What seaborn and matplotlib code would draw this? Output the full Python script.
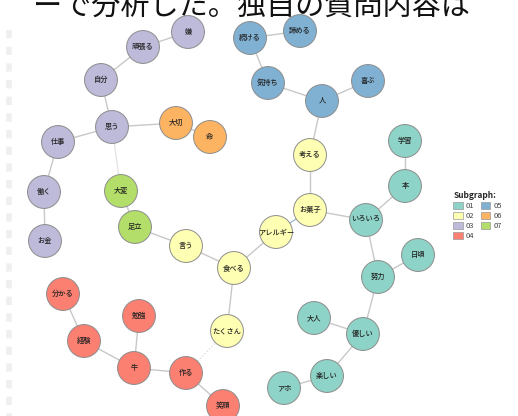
import pandas as pd
import matplotlib.pyplot as plt
import seaborn as sns
from matplotlib.patches import Patch

# nodes of the co-occurrence network (word, subgraph, layout position in px)
words = ["嫌", "頑張る", "自分", "思う", "仕事", "働く", "お金",
         "大切", "命",
         "大変", "足立",
         "言う", "食べる", "たくさん", "アレルギー", "お菓子", "考える",
         "続ける", "諦める", "気持ち", "人", "喜ぶ",
         "学習", "本", "いろいろ", "日頃", "努力", "大人", "優しい", "楽しい", "アホ",
         "分かる", "経験", "勉強", "牛", "作る", "笑顔"]
subgraph = ["03"] * 7 + ["06"] * 2 + ["07"] * 2 + ["02"] * 6 + ["05"] * 5 + ["01"] * 9 + ["04"] * 6
node_x = [188, 143, 101, 112, 58, 44, 45,
          176, 210,
          121, 135,
          186, 234, 227, 276, 310, 310,
          250, 300, 268, 322, 368,
          405, 405, 366, 418, 378, 314, 363, 327, 284,
          63, 84, 139, 134, 186, 223]
node_y = [32, 47, 80, 127, 142, 192, 241,
          123, 137,
          191, 227,
          246, 268, 331, 232, 210, 155,
          38, 31, 83, 101, 81,
          141, 186, 220, 255, 277, 318, 334, 376, 388,
          294, 341, 316, 368, 373, 406]

edges = [("嫌", "頑張る"), ("頑張る", "自分"), ("自分", "思う"), ("思う", "仕事"),
         ("思う", "大切"), ("大切", "命"), ("仕事", "働く"), ("働く", "お金"),
         ("大変", "足立"), ("足立", "言う"), ("言う", "食べる"),
         ("食べる", "アレルギー"), ("食べる", "たくさん"), ("お菓子", "考える"),
         ("考える", "人"), ("お菓子", "いろいろ"), ("続ける", "諦める"),
         ("続ける", "気持ち"), ("気持ち", "人"), ("人", "喜ぶ"), ("学習", "本"),
         ("本", "いろいろ"), ("いろいろ", "努力"), ("努力", "日頃"), ("努力", "優しい"),
         ("大人", "優しい"), ("優しい", "楽しい"), ("楽しい", "アホ"),
         ("分かる", "経験"), ("経験", "牛"), ("勉強", "牛"), ("牛", "作る"), ("作る", "笑顔")]
faint_edges = [("思う", "大変")]
blue_edges = [("アレルギー", "お菓子")]
dotted_edges = [("作る", "たくさん")]

groups = ["01", "02", "03", "04", "05", "06", "07"]
header = "ーで分析した。独自の質問内容は"

sns.set_theme(style="white")
plt.rcParams['font.family'] = ['Noto Sans CJK JP', 'DejaVu Sans']

df = pd.DataFrame({"word": words, "subgraph": subgraph, "x": node_x, "y": node_y})
pos = {w: (x, y) for w, x, y in zip(words, node_x, node_y)}
palette = {"01": "#8dd3c7", "02": "#ffffb3", "03": "#bebada", "04": "#fb8072",
           "05": "#80b1d3", "06": "#fdb462", "07": "#b3de69"}

fig = plt.figure(figsize=(5.18, 4.16), dpi=100)
ax = fig.add_axes([0, 0, 1, 1])

# torn page edge on the left
ax.plot([9, 9], [30, 416], color="#efefef", lw=4, ls=(0, (1.5, 1.5)), zorder=0)

def draw_edges(pairs, **kw):
    for a, b in pairs:
        ax.plot([pos[a][0], pos[b][0]], [pos[a][1], pos[b][1]], zorder=1, **kw)

draw_edges(edges, color="#c8c8c8", lw=1.0)
draw_edges(faint_edges, color="#e4e4e4", lw=1.0)
draw_edges(blue_edges, color="#9bb7cf", lw=0.9)
draw_edges(dotted_edges, color="#dcdcdc", lw=0.9, ls=":")

sns.scatterplot(data=df, x="x", y="y", hue="subgraph", palette=palette, s=560,
                edgecolor="#8c8c8c", linewidth=0.7, legend=False, ax=ax, zorder=2)
ax.set_xlim(0, 518)
ax.set_ylim(416, 0)
ax.axis("off")

for w, x, y in zip(words, node_x, node_y):
    ax.text(x, y, w, ha="center", va="center", fontsize=5.2, color="#222222",
            fontweight="medium", zorder=3)

ax.text(33, 16, header, fontsize=21, color="#111111", ha="left", va="baseline")

handles = [Patch(facecolor=palette[g], edgecolor="#999999", linewidth=0.5, label=g) for g in groups]
leg = ax.legend(handles=handles, title="Subgraph:", ncol=2, fontsize=5.5,
                title_fontsize=6, frameon=False, loc="upper left",
                bbox_to_anchor=(448 / 518, 1 - 186 / 416), handlelength=1.2,
                handleheight=1.0, columnspacing=0.9, handletextpad=0.4,
                labelspacing=0.25, borderpad=0.2)
leg.get_title().set_fontweight("bold")
leg._legend_box.align = "left"
for t in leg.get_texts():
    t.set_color("#444444")

fig.savefig("out.png", dpi=100)
